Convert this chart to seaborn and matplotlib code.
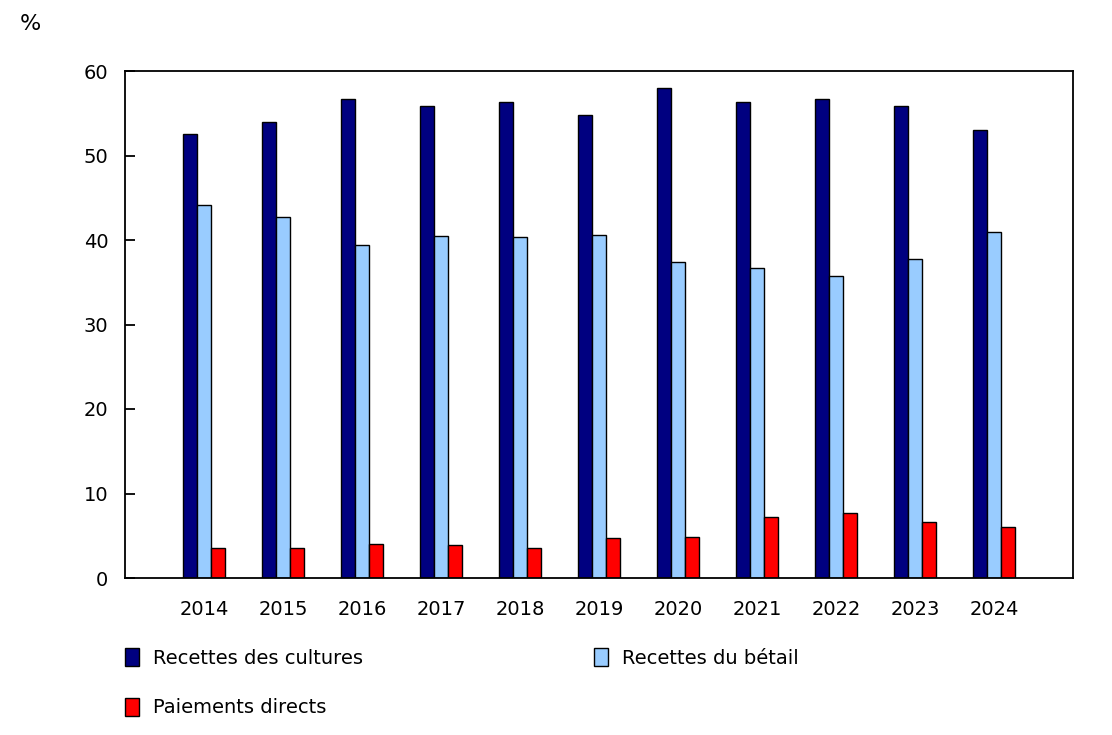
import matplotlib
matplotlib.use("Agg")
import matplotlib.pyplot as plt
import seaborn as sns
import pandas as pd

years = ["2014", "2015", "2016", "2017", "2018", "2019", "2020", "2021", "2022", "2023", "2024"]
series_names = ["Recettes des cultures", "Recettes du bétail", "Paiements directs"]
crops = [52.5, 54.0, 56.7, 55.8, 56.3, 54.8, 58.0, 56.3, 56.7, 55.9, 53.0]
livestock = [44.1, 42.7, 39.4, 40.5, 40.3, 40.6, 37.4, 36.7, 35.7, 37.7, 41.0]
direct = [3.6, 3.6, 4.0, 3.9, 3.5, 4.7, 4.8, 7.2, 7.7, 6.6, 6.0]
colors = ["#000080", "#99CCFF", "#FF0000"]
yticks = [0, 10, 20, 30, 40, 50, 60]

rows = []
for name, vals in zip(series_names, [crops, livestock, direct]):
    for y, v in zip(years, vals):
        rows.append({"year": y, "value": v, "series": name})
df = pd.DataFrame(rows)

sns.set_theme(style="white")
plt.rcParams["font.family"] = ["DejaVu Sans"]
plt.rcParams["text.color"] = "black"
plt.rcParams["xtick.color"] = "black"
plt.rcParams["ytick.color"] = "black"

fig = plt.figure(figsize=(11.12, 7.35), dpi=100)
ax = fig.add_axes([125 / 1112, 1 - 578 / 735, (1073 - 125) / 1112, (578 - 71) / 735])

sns.barplot(data=df, x="year", y="value", hue="series", hue_order=series_names,
            palette=colors, saturation=1, width=0.53, edgecolor="black",
            linewidth=1.0, ax=ax, errorbar=None)

ax.set_xlim(-1, 11)
ax.set_ylim(0, 60)
ax.set_yticks(yticks)
ax.set_yticklabels([str(t) for t in yticks])
ax.set_xlabel("")
ax.set_ylabel("")
for s in ax.spines.values():
    s.set_visible(True)
    s.set_color("black")
    s.set_linewidth(1.3)
ax.tick_params(axis="y", direction="in", length=7, width=1.3, color="black",
               labelcolor="black", labelsize=14, pad=12, left=True)
ax.tick_params(axis="x", length=0, labelsize=14, labelcolor="black", pad=16)

handles, labels = ax.get_legend_handles_labels()
ax.get_legend().remove()
order = [0, 2, 1]
fig.legend([handles[i] for i in order], [labels[i] for i in order],
           loc="upper left", bbox_to_anchor=(125 / 1112, 1 - 648 / 735),
           ncol=2, frameon=False, fontsize=14, handlelength=0.72, handleheight=1.05,
           handletextpad=0.72, columnspacing=11.9, labelspacing=1.55, borderpad=0,
           borderaxespad=0)

fig.text(20 / 1112, 1 - 24 / 735, "%", fontsize=16, va="center", ha="left")

fig.savefig("out.png", dpi=100)
